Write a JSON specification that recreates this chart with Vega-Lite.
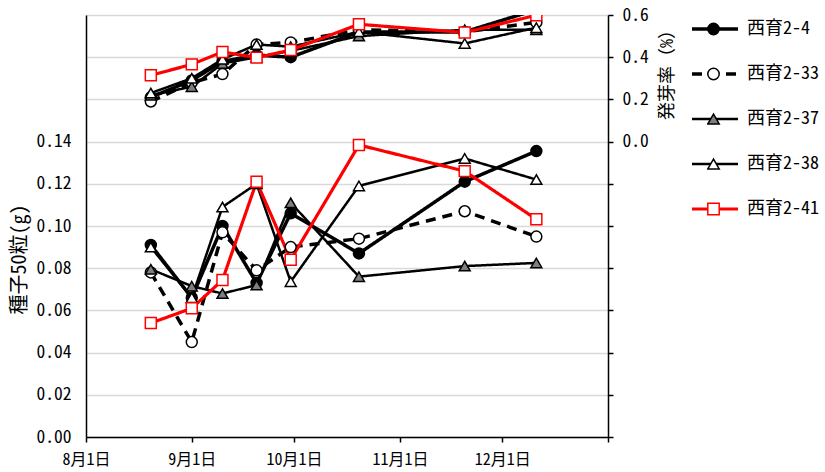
{
  "$schema": "https://vega.github.io/schema/vega-lite/v6.json",
  "width": 522,
  "height": 422,
  "autosize": {"type": "none"},
  "padding": {"left": 86, "top": 15, "right": 217, "bottom": 35},
  "background": "white",
  "config": {
    "view": {"stroke": null},
    "font": "Noto Sans Mono CJK JP, Noto Sans CJK JP",
    "axis": {"domainColor": "#000", "domainWidth": 1.5, "tickColor": "#000", "tickWidth": 1.5, "labelColor": "#111", "titleColor": "#111", "titleFontWeight": "normal"}
  },
  "data": {"values": [
    {"date": "2023-08-20", "series": "西育2-4", "seed": 0.091, "germ": 0.21},
    {"date": "2023-09-01", "series": "西育2-4", "seed": 0.066, "germ": 0.29},
    {"date": "2023-09-10", "series": "西育2-4", "seed": 0.100, "germ": 0.38},
    {"date": "2023-09-20", "series": "西育2-4", "seed": 0.073, "germ": 0.41},
    {"date": "2023-09-30", "series": "西育2-4", "seed": 0.106, "germ": 0.40},
    {"date": "2023-10-20", "series": "西育2-4", "seed": 0.087, "germ": 0.52},
    {"date": "2023-11-20", "series": "西育2-4", "seed": 0.121, "germ": 0.52},
    {"date": "2023-12-11", "series": "西育2-4", "seed": 0.1355, "germ": 0.625},
    {"date": "2023-08-20", "series": "西育2-33", "seed": 0.078, "germ": 0.19},
    {"date": "2023-09-01", "series": "西育2-33", "seed": 0.045, "germ": 0.28},
    {"date": "2023-09-10", "series": "西育2-33", "seed": 0.097, "germ": 0.32},
    {"date": "2023-09-20", "series": "西育2-33", "seed": 0.079, "germ": 0.46},
    {"date": "2023-09-30", "series": "西育2-33", "seed": 0.090, "germ": 0.47},
    {"date": "2023-10-20", "series": "西育2-33", "seed": 0.094, "germ": 0.53},
    {"date": "2023-11-20", "series": "西育2-33", "seed": 0.107, "germ": 0.52},
    {"date": "2023-12-11", "series": "西育2-33", "seed": 0.095, "germ": 0.565},
    {"date": "2023-08-20", "series": "西育2-37", "seed": 0.0795, "germ": 0.22},
    {"date": "2023-09-01", "series": "西育2-37", "seed": 0.0715, "germ": 0.26},
    {"date": "2023-09-10", "series": "西育2-37", "seed": 0.068, "germ": 0.37},
    {"date": "2023-09-20", "series": "西育2-37", "seed": 0.072, "germ": 0.40},
    {"date": "2023-09-30", "series": "西育2-37", "seed": 0.111, "germ": 0.43},
    {"date": "2023-10-20", "series": "西育2-37", "seed": 0.076, "germ": 0.50},
    {"date": "2023-11-20", "series": "西育2-37", "seed": 0.081, "germ": 0.53},
    {"date": "2023-12-11", "series": "西育2-37", "seed": 0.0825, "germ": 0.53},
    {"date": "2023-08-20", "series": "西育2-38", "seed": 0.090, "germ": 0.23},
    {"date": "2023-09-01", "series": "西育2-38", "seed": 0.066, "germ": 0.30},
    {"date": "2023-09-10", "series": "西育2-38", "seed": 0.109, "germ": 0.39},
    {"date": "2023-09-20", "series": "西育2-38", "seed": 0.120, "germ": 0.46},
    {"date": "2023-09-30", "series": "西育2-38", "seed": 0.0736, "germ": 0.45},
    {"date": "2023-10-20", "series": "西育2-38", "seed": 0.119, "germ": 0.52},
    {"date": "2023-11-20", "series": "西育2-38", "seed": 0.132, "germ": 0.465},
    {"date": "2023-12-11", "series": "西育2-38", "seed": 0.122, "germ": 0.54},
    {"date": "2023-08-20", "series": "西育2-41", "seed": 0.054, "germ": 0.314},
    {"date": "2023-09-01", "series": "西育2-41", "seed": 0.061, "germ": 0.366},
    {"date": "2023-09-10", "series": "西育2-41", "seed": 0.0744, "germ": 0.425},
    {"date": "2023-09-20", "series": "西育2-41", "seed": 0.121, "germ": 0.398},
    {"date": "2023-09-30", "series": "西育2-41", "seed": 0.084, "germ": 0.434},
    {"date": "2023-10-20", "series": "西育2-41", "seed": 0.1384, "germ": 0.556},
    {"date": "2023-11-20", "series": "西育2-41", "seed": 0.126, "germ": 0.517},
    {"date": "2023-12-11", "series": "西育2-41", "seed": 0.1032, "germ": 0.599}
  ]},
  "encoding": {
    "x": {
      "field": "date", "type": "temporal",
      "scale": {"type": "utc", "domain": [{"year": 2023, "month": 8, "date": 1, "utc": true}, {"year": 2024, "month": 1, "date": 1, "utc": true}]},
      "axis": {
        "title": null, "grid": false, "tickSize": 5, "labelPadding": 9,
        "values": [
          {"year": 2023, "month": 8, "date": 1, "utc": true},
          {"year": 2023, "month": 9, "date": 1, "utc": true},
          {"year": 2023, "month": 10, "date": 1, "utc": true},
          {"year": 2023, "month": 11, "date": 1, "utc": true},
          {"year": 2023, "month": 12, "date": 1, "utc": true},
          {"year": 2024, "month": 1, "date": 1, "utc": true}
        ],
        "labelExpr": "utcmonth(datum.value) === 0 ? '' : (utcmonth(datum.value) + 1) + '月' + utcdate(datum.value) + '日'",
        "labelFontSize": 16, "labelFlush": false, "labelOverlap": false, "labelColor": "#000"
      }
    }
  },
  "layer": [
    {
      "encoding": {
        "y": {
          "field": "seed", "type": "quantitative",
          "scale": {"domain": [0, 0.2], "nice": false},
          "axis": {
            "orient": "left", "title": "種子50粒(g)",
            "values": [0, 0.02, 0.04, 0.06, 0.08, 0.1, 0.12, 0.14, 0.16, 0.18, 0.2],
            "labelExpr": "datum.value > 0.141 ? '' : format(datum.value, '.2f')",
            "grid": true, "gridColor": "#d9d9d9", "gridWidth": 1.5, "ticks": false,
            "labelPadding": 15, "labelFontSize": 17.5, "labelColor": "#000",
            "titleFontSize": 20, "titleAngle": -90, "titleX": -67, "titleY": 244, "titleBaseline": "middle", "titleAlign": "center", "titleColor": "#000"
          }
        }
      },
      "layer": [
        {
          "mark": {"type": "line", "strokeJoin": "round"},
          "encoding": {
            "stroke": {"field": "series", "type": "nominal",
              "scale": {"domain": ["西育2-4", "西育2-33", "西育2-37", "西育2-38", "西育2-41"], "range": ["#000000", "#000000", "#000000", "#000000", "#ff0000"]},
              "legend": {"orient": "none", "legendX": 604, "legendY": -8.5, "title": null, "symbolType": "stroke", "symbolSize": 2116, "clipHeight": 45, "rowPadding": 0, "labelOffset": 7, "labelFontSize": 18, "labelColor": "#000", "padding": 0, "zindex": 1}},
            "strokeDash": {"field": "series", "type": "nominal",
              "scale": {"domain": ["西育2-4", "西育2-33", "西育2-37", "西育2-38", "西育2-41"], "range": [[1, 0], [10, 7], [1, 0], [1, 0], [1, 0]]},
              "legend": {"orient": "none", "legendX": 604, "legendY": -8.5, "title": null, "symbolType": "stroke", "symbolSize": 2116, "clipHeight": 45, "rowPadding": 0, "labelOffset": 7, "labelFontSize": 18, "labelColor": "#000", "padding": 0, "zindex": 1}},
            "strokeWidth": {"field": "series", "type": "nominal",
              "scale": {"type": "ordinal", "domain": ["西育2-4", "西育2-33", "西育2-37", "西育2-38", "西育2-41"], "range": [3.5, 3.5, 2.5, 2.5, 3.2]},
              "legend": {"orient": "none", "legendX": 604, "legendY": -8.5, "title": null, "symbolType": "stroke", "symbolSize": 2116, "clipHeight": 45, "rowPadding": 0, "labelOffset": 7, "labelFontSize": 18, "labelColor": "#000", "padding": 0, "zindex": 1}}
          }
        },
        {
          "mark": {"type": "point", "size": 120, "strokeWidth": 1.5, "opacity": 1},
          "encoding": {
            "stroke": {"field": "series", "type": "nominal",
              "scale": {"domain": ["西育2-4", "西育2-33", "西育2-37", "西育2-38", "西育2-41"], "range": ["#000000", "#000000", "#000000", "#000000", "#ff0000"]},
              "legend": {"orient": "none", "legendX": 604, "legendY": -8.5, "title": null, "symbolType": "stroke", "symbolSize": 2116, "clipHeight": 45, "rowPadding": 0, "labelOffset": 7, "labelFontSize": 18, "labelColor": "#000", "padding": 0, "zindex": 1}},
            "shape": {"field": "series", "type": "nominal", "sort": null,
              "scale": {"range": ["circle", "circle", "triangle-up", "triangle-up", "square"]},
              "legend": {"orient": "none", "legendX": 621, "legendY": -8.5, "title": null, "symbolSize": 130, "symbolStrokeWidth": 1.5, "symbolOpacity": 1, "clipHeight": 45, "rowPadding": 0, "labelExpr": "''", "padding": 0, "zindex": 2, "encode": {"symbols": {"update": {"stroke": {"scale": "stroke", "field": "value"}}}}}},
            "fill": {"field": "series", "type": "nominal", "sort": null,
              "scale": {"range": ["#000000", "#ffffff", "#7f7f7f", "#ffffff", "#ffffff"]},
              "legend": {"orient": "none", "legendX": 621, "legendY": -8.5, "title": null, "symbolSize": 130, "symbolStrokeWidth": 1.5, "symbolOpacity": 1, "clipHeight": 45, "rowPadding": 0, "labelExpr": "''", "padding": 0, "zindex": 2, "encode": {"symbols": {"update": {"stroke": {"scale": "stroke", "field": "value"}}}}}}
          }
        }
      ]
    },
    {
      "encoding": {
        "y": {
          "field": "germ", "type": "quantitative",
          "scale": {"domain": [-1.4, 0.6], "nice": false, "zero": false},
          "axis": {
            "orient": "right", "title": "発芽率（%）",
            "values": [-1.4, -1.2, -1, -0.8, -0.6, -0.4, -0.2, 0, 0.2, 0.4, 0.6],
            "labelExpr": "datum.value < -0.01 ? '' : format(datum.value, '.1f')",
            "grid": false, "tickSize": 5, "labelPadding": 9,
            "labelFontSize": 17.5, "labelColor": "#000",
            "titleFontSize": 18, "titleAngle": 270, "titleX": 59, "titleY": 55, "titleBaseline": "middle", "titleAlign": "center", "titleColor": "#000"
          }
        }
      },
      "layer": [
        {
          "mark": {"type": "line", "strokeJoin": "round", "clip": true},
          "encoding": {
            "stroke": {"field": "series", "type": "nominal",
              "scale": {"domain": ["西育2-4", "西育2-33", "西育2-37", "西育2-38", "西育2-41"], "range": ["#000000", "#000000", "#000000", "#000000", "#ff0000"]},
              "legend": {"orient": "none", "legendX": 604, "legendY": -8.5, "title": null, "symbolType": "stroke", "symbolSize": 2116, "clipHeight": 45, "rowPadding": 0, "labelOffset": 7, "labelFontSize": 18, "labelColor": "#000", "padding": 0, "zindex": 1}},
            "strokeDash": {"field": "series", "type": "nominal",
              "scale": {"domain": ["西育2-4", "西育2-33", "西育2-37", "西育2-38", "西育2-41"], "range": [[1, 0], [10, 7], [1, 0], [1, 0], [1, 0]]},
              "legend": {"orient": "none", "legendX": 604, "legendY": -8.5, "title": null, "symbolType": "stroke", "symbolSize": 2116, "clipHeight": 45, "rowPadding": 0, "labelOffset": 7, "labelFontSize": 18, "labelColor": "#000", "padding": 0, "zindex": 1}},
            "strokeWidth": {"field": "series", "type": "nominal",
              "scale": {"type": "ordinal", "domain": ["西育2-4", "西育2-33", "西育2-37", "西育2-38", "西育2-41"], "range": [3.5, 3.5, 2.5, 2.5, 3.2]},
              "legend": {"orient": "none", "legendX": 604, "legendY": -8.5, "title": null, "symbolType": "stroke", "symbolSize": 2116, "clipHeight": 45, "rowPadding": 0, "labelOffset": 7, "labelFontSize": 18, "labelColor": "#000", "padding": 0, "zindex": 1}}
          }
        },
        {
          "mark": {"type": "point", "size": 120, "strokeWidth": 1.5, "opacity": 1, "clip": true},
          "encoding": {
            "stroke": {"field": "series", "type": "nominal",
              "scale": {"domain": ["西育2-4", "西育2-33", "西育2-37", "西育2-38", "西育2-41"], "range": ["#000000", "#000000", "#000000", "#000000", "#ff0000"]},
              "legend": {"orient": "none", "legendX": 604, "legendY": -8.5, "title": null, "symbolType": "stroke", "symbolSize": 2116, "clipHeight": 45, "rowPadding": 0, "labelOffset": 7, "labelFontSize": 18, "labelColor": "#000", "padding": 0, "zindex": 1}},
            "shape": {"field": "series", "type": "nominal", "sort": null,
              "scale": {"range": ["circle", "circle", "triangle-up", "triangle-up", "square"]},
              "legend": {"orient": "none", "legendX": 621, "legendY": -8.5, "title": null, "symbolSize": 130, "symbolStrokeWidth": 1.5, "symbolOpacity": 1, "clipHeight": 45, "rowPadding": 0, "labelExpr": "''", "padding": 0, "zindex": 2, "encode": {"symbols": {"update": {"stroke": {"scale": "stroke", "field": "value"}}}}}},
            "fill": {"field": "series", "type": "nominal", "sort": null,
              "scale": {"range": ["#000000", "#ffffff", "#7f7f7f", "#ffffff", "#ffffff"]},
              "legend": {"orient": "none", "legendX": 621, "legendY": -8.5, "title": null, "symbolSize": 130, "symbolStrokeWidth": 1.5, "symbolOpacity": 1, "clipHeight": 45, "rowPadding": 0, "labelExpr": "''", "padding": 0, "zindex": 2, "encode": {"symbols": {"update": {"stroke": {"scale": "stroke", "field": "value"}}}}}}
          }
        }
      ]
    }
  ],
  "resolve": {"scale": {"y": "independent"}, "axis": {"y": "independent"}}
}
